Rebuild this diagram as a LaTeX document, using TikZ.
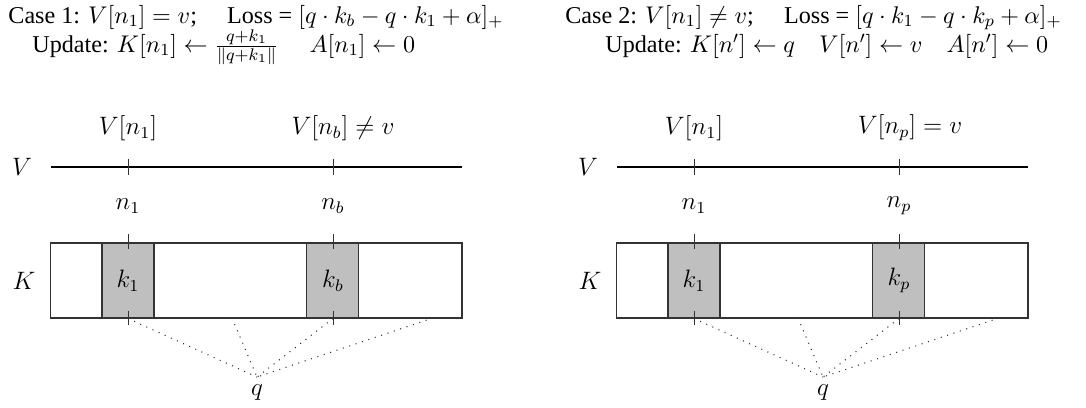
\documentclass[tikz,border=0pt]{standalone}
\usepackage{fix-cm}
\usepackage[no-math]{fontspec}
\setmainfont{Liberation Serif}
\usepackage{amsmath}
\usepackage{tikz}
\usetikzlibrary{
	positioning,
	calc
}

\begin{document}
\begin{tikzpicture}[
	every node/.style={font=\fontsize{12}{14.4}\selectfont},
	c_title/.style={
		anchor=base west,
		inner sep=0pt,
		font=\fontsize{11.5}{13.8}\selectfont
	},
	c_vline/.style={
		black,
		line width=1pt
	},
	c_tick/.style={
		black!80,
		line width=0.4pt
	},
	c_box/.style={
		draw=black!80,
		line width=0.5pt,
		minimum width=6.898cm,
		minimum height=1.256cm,
		inner sep=0pt
	},
	c_cell/.style={
		draw=black!80,
		fill=lightgray,
		line width=0.5pt,
		minimum width=0.871cm,
		minimum height=1.256cm,
		inner sep=0pt
	},
	c_dots/.style={
		black!80,
		line width=0.5pt,
		dash pattern=on 0.5pt off 2.7pt
	}
	]
			
			\useasboundingbox (0,0) rectangle (18.19,6.817);
			
			% =========================================================================
			% 1. HEADINGS
			% =========================================================================
			
			\node[c_title] (caseL) at (0.134,6.43)
			{Case 1: $V[n_1] = v$; \quad Loss = $[q \cdot k_b - q \cdot k_1 + \alpha]_+$};
			
			\node[c_title] (updL) at (0.536,5.94)
			{Update: $K[n_1] \leftarrow \frac{q+k_1}{\|q+k_1\|} \quad\; A[n_1] \leftarrow 0$};
			
			\node[c_title] (caseR) at (9.463,6.43)
			{Case 2: $V[n_1] \neq v$; \quad Loss = $[q \cdot k_1 - q \cdot k_p + \alpha]_+$};
			
			\node[c_title] (updR) at (10.133,5.94)
			{Update: $K[n'] \leftarrow q \quad V[n'] \leftarrow v \quad A[n'] \leftarrow 0$};
			
			% =========================================================================
			% 2. CASE 1 (LEFT)
			% =========================================================================
			
			% Value line
			\node (vL) at (0.368,4.020) {$V$};
			\coordinate (vaL) at (0.854,4.020);
			\coordinate (vbL) at (7.738,4.020);
			\draw[c_vline] (vaL)--(vbL);
			
			\coordinate (t1L) at (2.144,4.020);
			\coordinate (t2L) at (5.577,4.020);
			\foreach \t in {t1L,t2L}
			{
				\draw[c_tick] ($(\t)+(0,0.134)$)--($(\t)+(0,-0.134)$);
			}
			
			\node (vn1L) at (2.144,4.673) {$V[n_1]$};
			\node (vnbL) at (5.745,4.673) {$V[n_b] \neq v$};
			
			\node (n1L) at (2.144,3.367) {$n_1$};
			\node (nbL) at (5.577,3.367) {$n_b$};
			
			% Key memory
			\node (kL) at (0.402,2.119) {$K$};
			\node[c_box] (boxL) at (4.289,2.119) {};
			\node[c_cell] (k1L) at (2.144,2.119) {$k_1$};
			\node[c_cell] (kbL) at (5.577,2.119) {$k_b$};
			
			\foreach \c in {k1L,kbL}
			{
				\draw[c_tick] ($(\c.north)+(0,0.134)$)--($(\c.north)+(0,-0.117)$);
				\draw[c_tick] ($(\c.south)+(0,0.134)$)--($(\c.south)+(0,-0.117)$);
			}
			
			% Query
			\coordinate (m1L) at (3.886,1.491);
			\coordinate (m2L) at (7.252,1.491);
			\coordinate (qpL) at (4.305,0.502);
			\node[below=0pt of qpL] (qL) {$q$};
			
			\foreach \c in {k1L.south,m1L,kbL.south,m2L}
			{
				\draw[c_dots] (\c)--(qpL);
			}
			
			% =========================================================================
			% 3. CASE 2 (RIGHT)
			% =========================================================================
			
			\begin{scope}[shift={(9.480,0)}]
				
				% Value line
				\node (vR) at (0.368,4.020) {$V$};
				\coordinate (vaR) at (0.854,4.020);
				\coordinate (vbR) at (7.738,4.020);
				\draw[c_vline] (vaR)--(vbR);
				
				\coordinate (t1R) at (2.144,4.020);
				\coordinate (t2R) at (5.577,4.020);
				\foreach \t in {t1R,t2R}
				{
					\draw[c_tick] ($(\t)+(0,0.134)$)--($(\t)+(0,-0.134)$);
				}
				
				\node (vn1R) at (2.144,4.673) {$V[n_1]$};
				\node (vnpR) at (5.762,4.673) {$V[n_p] = v$};
				
				\node (n1R) at (2.144,3.367) {$n_1$};
				\node (npR) at (5.577,3.367) {$n_p$};
				
				% Key memory
				\node (kR) at (0.402,2.119) {$K$};
				\node[c_box] (boxR) at (4.289,2.119) {};
				\node[c_cell] (k1R) at (2.144,2.119) {$k_1$};
				\node[c_cell] (kpR) at (5.577,2.119) {$k_p$};
				
				\foreach \c in {k1R,kpR}
				{
					\draw[c_tick] ($(\c.north)+(0,0.134)$)--($(\c.north)+(0,-0.117)$);
					\draw[c_tick] ($(\c.south)+(0,0.134)$)--($(\c.south)+(0,-0.117)$);
				}
				
				% Query
				\coordinate (m1R) at (3.886,1.491);
				\coordinate (m2R) at (7.252,1.491);
				\coordinate (qpR) at (4.305,0.502);
				\node[below=0pt of qpR] (qR) {$q$};
				
				\foreach \c in {k1R.south,m1R,kpR.south,m2R}
				{
					\draw[c_dots] (\c)--(qpR);
				}
				
			\end{scope}
			
		\end{tikzpicture}
\end{document}
